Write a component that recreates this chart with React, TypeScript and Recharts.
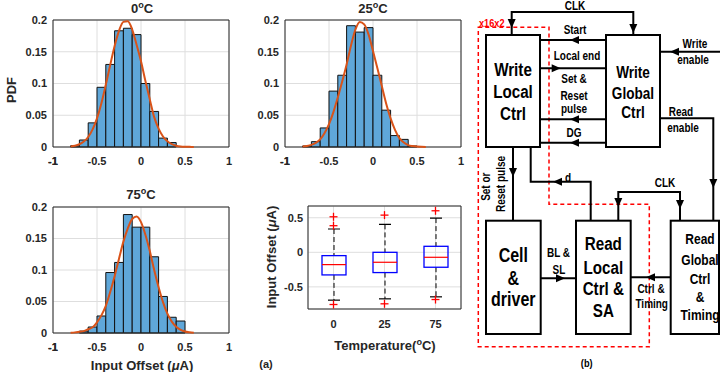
import React from 'react';
import {
  ComposedChart, Line, Bar, XAxis, YAxis,
  CartesianGrid, ReferenceArea, ReferenceDot
} from 'recharts';

// histogram bins (left edges), bin width 0.1 uA
const binStarts = [-0.8, -0.7, -0.6, -0.5, -0.4, -0.3, -0.2, -0.1, 0, 0.1, 0.2, 0.3, 0.4];
const binWidth = 0.1;
const pdf0C = [0.002, 0.011, 0.038, 0.094, 0.13, 0.183, 0.187, 0.177, 0.1, 0.056, 0.014, 0.007, 0];
const pdf25C = [0.0016, 0.0084, 0.03, 0.088, 0.113, 0.191, 0.181, 0.188, 0.113, 0.058, 0.018, 0.012, 0.0016];
const pdf75C = [0, 0.003, 0.0095, 0.027, 0.096, 0.112, 0.188, 0.168, 0.168, 0.121, 0.058, 0.025, 0.019];

// fitted curves
const fitX = [
  -0.8, -0.75, -0.7, -0.65, -0.6, -0.55, -0.5, -0.45, -0.4, -0.35, -0.3, -0.25, -0.2, -0.15,
  -0.1, -0.05, 0, 0.05, 0.1, 0.15, 0.2, 0.25, 0.3, 0.35, 0.4, 0.45, 0.5, 0.55, 0.6,
];
const fit0C = [
  0.0009, 0.002, 0.0043, 0.0085, 0.0158, 0.0277, 0.045, 0.0688, 0.098, 0.129, 0.159, 0.183, 0.197, 0.198,
  0.185, 0.161, 0.135, 0.104, 0.075, 0.047, 0.029, 0.0166, 0.009, 0.0045, 0.0021, 0.0009, 0.0004, 0.0002, 0.0001,
];
const fit25C = [
  0.0008, 0.0016, 0.0033, 0.0065, 0.012, 0.022, 0.036, 0.055, 0.078, 0.103, 0.13, 0.16, 0.185, 0.197,
  0.193, 0.177, 0.151, 0.124, 0.096, 0.068, 0.045, 0.027, 0.014, 0.007, 0.003, 0.0015, 0.0007, 0.0003, 0.0001,
];
const fit75C = [
  0.0005, 0.001, 0.002, 0.003, 0.006, 0.009, 0.017, 0.028, 0.043, 0.065, 0.09, 0.118, 0.145, 0.166,
  0.181, 0.185, 0.176, 0.156, 0.13, 0.1, 0.0726, 0.049, 0.0307, 0.018, 0.0099, 0.0051, 0.0024, 0.0011, 0.0004,
];

const xTicks = [-1, -0.5, 0, 0.5, 1];
const yTicks = [0, 0.05, 0.1, 0.15, 0.2];

// box plot
const temps = ['0', '25', '75'];
const whiskerLow = [-0.692, -0.673, -0.644];
const q1 = [-0.327, -0.293, -0.216];
const median = [-0.178, -0.144, -0.072];
const q3 = [-0.048, 0, 0.087];
const whiskerHigh = [0.337, 0.404, 0.495];
const outliers = [[0.514, 0.385, -0.755], [0.538, -0.745], [0.601, -0.683]];
const boxTicks = [-0.5, 0, 0.5];

const tickStyle = { fontSize: 11, fontWeight: 'bold', fill: '#262626' };
const gridColor = '#dedede';
const frame = '#262626';

function Histogram({ pdf, fit, height, xAxisHeight }: any) {
  const curve = fitX.map((x, i) => ({ x, y: fit[i] }));
  return (
    <ComposedChart width={240} height={height} data={curve}
      margin={{ top: 20, right: 11, bottom: 3, left: 0 }}>
      <CartesianGrid stroke={gridColor} />
      <XAxis dataKey="x" type="number" domain={[-1, 1]} ticks={xTicks} interval={0}
        height={xAxisHeight} tick={tickStyle} tickLine={false} axisLine={false} tickSize={0} tickMargin={10} />
      <YAxis type="number" domain={[0, 0.2]} ticks={yTicks} interval={0} width={53}
        tick={tickStyle} tickLine={false} axisLine={false} tickSize={0} tickMargin={6} />
      {binStarts.map((b, i) =>
        pdf[i] > 0 ? (
          <ReferenceArea key={i} x1={b} x2={b + binWidth} y1={0} y2={pdf[i]}
            fill="#5fa7d9" fillOpacity={1} stroke="#111" strokeWidth={1} />
        ) : null
      )}
      <ReferenceArea x1={-1} x2={1} y1={0} y2={0.2} fill="none" fillOpacity={0} stroke={frame} strokeWidth={1} />
      <Line dataKey="y" type="monotone" stroke="#d95319" strokeWidth={2} dot={false} isAnimationActive={false} />
    </ComposedChart>
  );
}

function BoxShape(props: any) {
  const { x, y, width, height, payload } = props;
  const top = Math.min(y, y + height);
  const bottom = Math.max(y, y + height);
  const toY = (v: number) => bottom - ((v - payload.lo) / (payload.hi - payload.lo)) * (bottom - top);
  const cx = x + width / 2;
  const cap = width / 4;
  return (
    <g>
      <line x1={cx} x2={cx} y1={toY(payload.hi)} y2={toY(payload.q3)} stroke="#000" strokeDasharray="5 3" />
      <line x1={cx} x2={cx} y1={toY(payload.q1)} y2={toY(payload.lo)} stroke="#000" strokeDasharray="5 3" />
      <line x1={cx - cap} x2={cx + cap} y1={toY(payload.hi)} y2={toY(payload.hi)} stroke="#000" strokeWidth={1.2} />
      <line x1={cx - cap} x2={cx + cap} y1={toY(payload.lo)} y2={toY(payload.lo)} stroke="#000" strokeWidth={1.2} />
      <rect x={x} y={toY(payload.q3)} width={width} height={toY(payload.q1) - toY(payload.q3)}
        fill="none" stroke="#0000ff" strokeWidth={1.3} />
      <line x1={x} x2={x + width} y1={toY(payload.med)} y2={toY(payload.med)} stroke="#ff0000" strokeWidth={1.2} />
    </g>
  );
}

function Plus(props: any) {
  const { cx, cy } = props;
  return (
    <g stroke="#ff0000" strokeWidth={1.3}>
      <line x1={cx - 4} x2={cx + 4} y1={cy} y2={cy} />
      <line x1={cx} x2={cx} y1={cy - 4} y2={cy + 4} />
    </g>
  );
}

function BoxPlot() {
  const rows = temps.map((t, i) => ({
    temp: t, lo: whiskerLow[i], q1: q1[i], med: median[i], q3: q3[i], hi: whiskerHigh[i],
  }));
  return (
    <ComposedChart width={240} height={185} data={rows} margin={{ top: 19, right: 11, bottom: 3, left: 0 }}>
      <CartesianGrid stroke={gridColor} />
      <XAxis dataKey="temp" type="category" height={60} tick={tickStyle} tickLine={false}
        axisLine={false} tickSize={0} tickMargin={11} />
      <YAxis type="number" domain={[-0.82, 0.67]} ticks={boxTicks} interval={0} width={76} allowDataOverflow
        tick={tickStyle} tickLine={false} axisLine={false} tickSize={0} tickMargin={5} />
      <ReferenceArea x1="0" x2="75" y1={-0.82} y2={0.67} fill="none" fillOpacity={0} stroke={frame} strokeWidth={1} />
      <Bar dataKey={(d: any) => [d.lo, d.hi]} barSize={24} shape={BoxShape} isAnimationActive={false} />
      {outliers.map((list, i) =>
        list.map((v, j) => (
          <ReferenceDot key={`${i}-${j}`} x={temps[i]} y={v} r={4} shape={Plus} />
        ))
      )}
    </ComposedChart>
  );
}

function Caption({ x, y, size = 13, rotate = false, children }: any) {
  return (
    <div style={{
      position: 'absolute', left: x, top: y, whiteSpace: 'nowrap', lineHeight: 1,
      transform: `translate(-50%, -50%)${rotate ? ' rotate(-90deg)' : ''}`,
      fontSize: size, fontWeight: 'bold', color: '#262626',
    }}>{children}</div>
  );
}

const Deg = () => <span style={{ fontSize: '0.7em', position: 'relative', top: '-0.45em' }}>o</span>;

function DText({ x, y, size, children, fill = '#000', anchor = 'middle', rotate = false }: any) {
  return (
    <text transform={`translate(${x} ${y})${rotate ? ' rotate(-90)' : ''} scale(0.8 1)`}
      textAnchor={anchor} fontSize={size} fontWeight="bold" fill={fill}>{children}</text>
  );
}

function Arrow({ x, y, dir }: any) {
  const L = 9, W = 4;
  let pts = '';
  if (dir === 'left') pts = `${x},${y} ${x + L},${y - W} ${x + L},${y + W}`;
  if (dir === 'right') pts = `${x},${y} ${x - L},${y - W} ${x - L},${y + W}`;
  if (dir === 'down') pts = `${x},${y} ${x - W},${y - L} ${x + W},${y - L}`;
  return <polygon points={pts} fill="#000" />;
}

function Diagram() {
  const box = { fill: '#fff', stroke: '#000', strokeWidth: 2 };
  const wire = { fill: 'none', stroke: '#000', strokeWidth: 2 };
  return (
    <svg width={720} height={372} style={{ position: 'absolute', left: 0, top: 0 }}>
      <polygon points="478.3,27.3 549,27.3 549,204.3 649.3,204.3 649.3,346.7 478.3,346.7"
        fill="none" stroke="#ff0000" strokeWidth={1.5} strokeDasharray="4 3" />
      <polyline points="511.7,35 511.7,12 633.3,12 633.3,35" {...wire} />
      <line x1={540} x2={606} y1={40} y2={40} {...wire} />
      <line x1={540} x2={606} y1={68.3} y2={68.3} {...wire} />
      <line x1={540} x2={606} y1={119.3} y2={119.3} {...wire} />
      <line x1={540} x2={606} y1={142.7} y2={142.7} {...wire} />
      <line x1={660} x2={720} y1={51.7} y2={51.7} {...wire} />
      <polyline points="660,118.3 713.3,118.3 713.3,220.7" {...wire} />
      <line x1={513} x2={513} y1={147} y2={220.7} {...wire} />
      <polyline points="530.7,147 530.7,181.7 590.7,181.7 590.7,220.7" {...wire} />
      <polyline points="618.3,220.7 618.3,192 680,192 680,220.7" {...wire} />
      <line x1={540.7} x2={576} y1={278.3} y2={278.3} {...wire} />
      <line x1={630.7} x2={670.7} y1={277.3} y2={277.3} {...wire} />

      <rect x={486} y={35} width={54} height={112} {...box} />
      <rect x={606} y={35} width={54} height={112} {...box} />
      <rect x={486} y={220.7} width={54.7} height={113.3} {...box} />
      <rect x={576} y={220.7} width={54.7} height={113.3} {...box} />
      <rect x={670.7} y={220.7} width={48.3} height={113.3} {...box} />

      <Arrow x={511.7} y={28} dir="down" />
      <Arrow x={633.3} y={33} dir="down" />
      <Arrow x={570} y={40} dir="left" />
      <Arrow x={560.7} y={68.3} dir="right" />
      <Arrow x={570} y={119.3} dir="left" />
      <Arrow x={570} y={142.7} dir="left" />
      <Arrow x={670} y={51.7} dir="left" />
      <Arrow x={713.3} y={188} dir="down" />
      <Arrow x={513} y={177} dir="down" />
      <Arrow x={553} y={181.7} dir="left" />
      <Arrow x={618.3} y={207} dir="down" />
      <Arrow x={680} y={209} dir="down" />
      <Arrow x={565} y={278.3} dir="right" />
      <Arrow x={646} y={277.3} dir="left" />

      <DText x={575} y={10} size={12.5}>CLK</DText>
      <DText x={479} y={26.5} size={11.5} fill="#ff0000" anchor="start">x16x2</DText>
      <DText x={513} y={76} size={19}>Write</DText>
      <DText x={513} y={97.5} size={19}>Local</DText>
      <DText x={513} y={120} size={19}>Ctrl</DText>
      <DText x={633} y={78} size={17}>Write</DText>
      <DText x={633} y={99} size={17}>Global</DText>
      <DText x={633} y={118} size={17}>Ctrl</DText>
      <DText x={575} y={34} size={12.5}>Start</DText>
      <DText x={577} y={60} size={12.5}>Local end</DText>
      <DText x={574} y={83} size={12.5}>Set &amp;</DText>
      <DText x={574} y={100} size={12.5}>Reset</DText>
      <DText x={574} y={113} size={12.5}>pulse</DText>
      <DText x={574} y={137} size={12.5}>DG</DText>
      <DText x={695} y={48} size={12.5}>Write</DText>
      <DText x={693} y={64} size={12.5}>enable</DText>
      <DText x={681} y={116} size={12.5}>Read</DText>
      <DText x={683} y={132} size={12.5}>enable</DText>
      <DText x={490} y={186.7} size={12.5} rotate>Set or</DText>
      <DText x={505} y={184} size={12.5} rotate>Reset pulse</DText>
      <DText x={568} y={182} size={12.5}>d</DText>
      <DText x={665} y={186.5} size={12.5}>CLK</DText>
      <DText x={513.3} y={261.5} size={20}>Cell</DText>
      <DText x={513.3} y={285} size={20}>&amp;</DText>
      <DText x={513.3} y={306} size={20}>driver</DText>
      <DText x={603.3} y={250} size={19}>Read</DText>
      <DText x={603.3} y={274} size={19}>Local</DText>
      <DText x={603.3} y={295} size={19}>Ctrl &amp;</DText>
      <DText x={603.3} y={317} size={19}>SA</DText>
      <DText x={700} y={244} size={15}>Read</DText>
      <DText x={700} y={265} size={15}>Global</DText>
      <DText x={700} y={284} size={15}>Ctrl</DText>
      <DText x={700} y={302} size={15}>&amp;</DText>
      <DText x={700} y={320} size={15}>Timing</DText>
      <DText x={558.5} y={257} size={12.5}>BL &amp;</DText>
      <DText x={559} y={274} size={12.5}>SL</DText>
      <DText x={651} y={293} size={12.5}>Ctrl &amp;</DText>
      <DText x={651.7} y={308} size={12.5}>Timing</DText>
      <DText x={586.7} y={367} size={11.5}>(b)</DText>
    </svg>
  );
}

export default function App() {
  return (
    <div style={{
      position: 'absolute', left: 0, top: 0, width: 720, height: 372, overflow: 'hidden',
      background: '#fff', fontFamily: '"Liberation Sans", Arial, sans-serif',
    }}>
      <div style={{ position: 'absolute', left: 0, top: 0 }}>
        <Histogram pdf={pdf0C} fit={fit0C} height={170} xAxisHeight={20} />
      </div>
      <div style={{ position: 'absolute', left: 232, top: 0 }}>
        <Histogram pdf={pdf25C} fit={fit25C} height={170} xAxisHeight={20} />
      </div>
      <div style={{ position: 'absolute', left: 0, top: 187 }}>
        <Histogram pdf={pdf75C} fit={fit75C} height={185} xAxisHeight={36} />
      </div>
      <div style={{ position: 'absolute', left: 232, top: 187 }}>
        <BoxPlot />
      </div>

      {/* left-edge x tick labels, which the axes leave out */}
      <Caption x={53} y={161} size={11}>-1</Caption>
      <Caption x={285} y={161} size={11}>-1</Caption>
      <Caption x={53} y={347} size={11}>-1</Caption>

      <Caption x={142} y={8.5}>0<Deg />C</Caption>
      <Caption x={373} y={8.5}>25<Deg />C</Caption>
      <Caption x={141} y={194.5}>75<Deg />C</Caption>
      <Caption x={11} y={90} rotate>PDF</Caption>
      <Caption x={142} y={365}>Input Offset (<i>μ</i>A)</Caption>
      <Caption x={271} y={257} rotate>Input Offset (<i>μ</i>A)</Caption>
      <Caption x={385} y={345.5}>Temperature(<Deg />C)</Caption>
      <Caption x={266} y={363.5} size={11}>(a)</Caption>

      <Diagram />
    </div>
  );
}
